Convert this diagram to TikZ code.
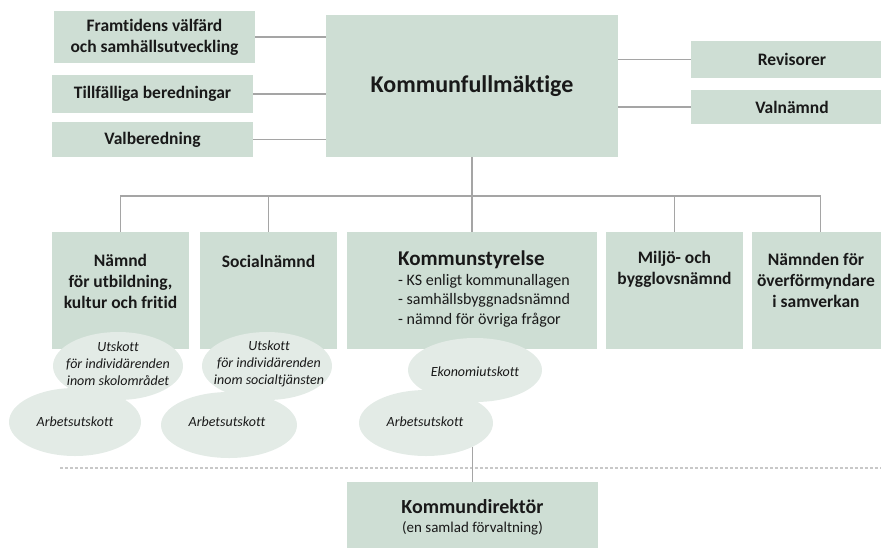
\documentclass[tikz,border=0pt]{standalone}
\usepackage{fontspec}
\setmainfont{Carlito}[Ligatures=NoCommon]
\usetikzlibrary{shapes.geometric}

\definecolor{boxgreen}{RGB}{206,222,212}
\definecolor{ovalgreen}{RGB}{227,235,230}
\definecolor{linegray}{RGB}{165,165,165}
\definecolor{dashgray}{RGB}{200,200,200}
\definecolor{inkgray}{RGB}{25,25,25}

\begin{document}
\begin{tikzpicture}[x=1pt,y=-1pt,
	box/.style={rectangle,fill=boxgreen,inner sep=0pt,text=inkgray,align=center,font=\fontsize{17.5}{21}\selectfont\bfseries},
	boxtxt/.style={inner sep=0pt,text=inkgray,align=center,font=\fontsize{17.5}{21}\selectfont\bfseries},
	oval/.style={ellipse,fill=ovalgreen,inner sep=0pt},
	ovaltxt/.style={inner sep=0pt,text=inkgray,align=center,font=\fontsize{14}{17}\selectfont\itshape},
	conn/.style={draw=linegray,line width=1.2pt}]
		\useasboundingbox (0,0) rectangle (881,547);

		% fullmaktige och dess beredningar
		\node[box,minimum width=201,minimum height=52] (fw) at (154.5,37) {Framtidens välfärd\\och samhällsutveckling};
		\node[box,minimum width=201,minimum height=38] (tb) at (152.5,94) {Tillfälliga beredningar};
		\node[box,minimum width=201,minimum height=35] (vb) at (152.5,139.5) {Valberedning};
		\node[box,minimum width=292,minimum height=142,font=\fontsize{24}{28}\selectfont\bfseries] (kf) at (472,86) {Kommunfullmäktige};
		\node[box,minimum width=202,minimum height=37] (rev) at (792,59.5) {Revisorer};
		\node[box,minimum width=202,minimum height=34] (vn) at (792,107) {Valnämnd};

		\draw[conn] (fw.east) -- (fw.east -| kf.west);
		\draw[conn] (tb.east) -- (tb.east -| kf.west);
		\draw[conn] (vb.east) -- (vb.east -| kf.west);
		\draw[conn] (kf.east |- rev.west) -- (rev.west);
		\draw[conn] (kf.east |- vn.west) -- (vn.west);

		% namnder
		\node[box,minimum width=137,minimum height=117] (utb) at (120.5,290.5) {};
		\node[box,minimum width=137,minimum height=117] (soc) at (268.5,290.5) {};
		\node[box,minimum width=250,minimum height=117] (ks) at (472,290.5) {};
		\node[box,minimum width=137,minimum height=117] (mbn) at (674.5,290.5) {};
		\node[box,minimum width=137,minimum height=117] (ofm) at (820.5,290.5) {};

		\node[boxtxt] (utbT) at (120.5,281) {Nämnd\\för utbildning,\\kultur och fritid};
		\node[boxtxt] (socT) at (268.5,261) {Socialnämnd};
		\node[boxtxt,anchor=north west,align=left,font=\fontsize{16}{19.5}\selectfont] (ksT) at (398,251)
			{{\fontsize{21}{24}\selectfont\bfseries Kommunstyrelse}\\- KS enligt kommunallagen\\- samhällsbyggnadsnämnd\\- nämnd för övriga frågor};
		\node[boxtxt] (mbnT) at (674.5,269.5) {Miljö- och\\bygglovsnämnd};
		\node[boxtxt] (ofmT) at (816,280) {Nämnden för\\överförmyndare\\i samverkan};

		\coordinate (bus) at (472,196);
		\draw[conn] (kf.south) -- (ks.north);
		\draw[conn] (utb.north) |- (bus) -| (ofm.north);
		\draw[conn] (soc.north) -- (soc.north |- bus);
		\draw[conn] (mbn.north) -- (mbn.north |- bus);

		% utskott
		\node[oval,minimum width=130,minimum height=68] (us1) at (118,366) {};
		\node[oval,minimum width=130,minimum height=68] (us2) at (267,366) {};
		\node[oval,minimum width=134,minimum height=64] (eko) at (475,370) {};
		\node[oval,minimum width=132,minimum height=68] (au1) at (75,422) {};
		\node[oval,minimum width=136,minimum height=66] (au2) at (229,425) {};
		\node[oval,minimum width=134,minimum height=66] (au3) at (426,423) {};

		\node[ovaltxt] (us1T) at (118,364) {Utskott\\för individärenden\\inom skolområdet};
		\node[ovaltxt] (us2T) at (269,364) {Utskott\\för individärenden\\inom socialtjänsten};
		\node[ovaltxt] (ekoT) at (475,372) {Ekonomiutskott};
		\node[ovaltxt] (au1T) at (75,422) {Arbetsutskott};
		\node[ovaltxt] (au2T) at (227,422) {Arbetsutskott};
		\node[ovaltxt] (au3T) at (425,422) {Arbetsutskott};

		% forvaltning
		\coordinate (dl) at (60,468);
		\coordinate (dr) at (881,468);
		\draw[dashgray,line width=1.2pt,dash pattern=on 3pt off 2pt] (dl) -- (dr);

		\node[box,minimum width=251,minimum height=130] (kd) at (472.5,547) {};
		\node[boxtxt,font=\fontsize{20}{24}\selectfont\bfseries] (kdT) at (472.5,507) {Kommundirektör};
		\node[boxtxt,font=\fontsize{15}{18}\selectfont] (kdS) at (472.5,528) {(en samlad förvaltning)};
		\draw[conn] (kd.north) -- (kd.north |- au3.-27);
	\end{tikzpicture}
\end{document}
